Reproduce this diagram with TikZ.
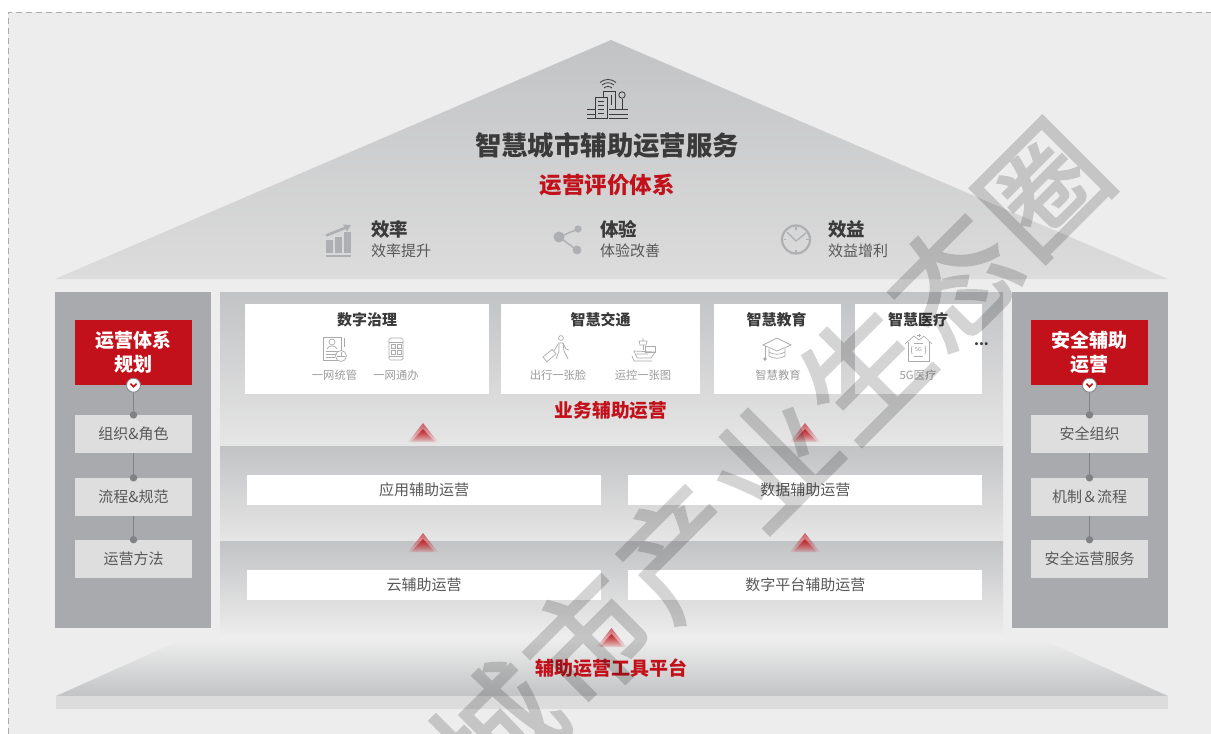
\documentclass[tikz,border=0pt]{standalone}
\usepackage{fontspec}
\setmainfont{Noto Sans CJK SC}
\newfontfamily\markfont[FakeBold=2.2]{Noto Sans CJK SC}
\usetikzlibrary{shapes,arrows,calc,positioning,fadings}

\definecolor{pagebg}{HTML}{EDEDED}
\definecolor{bandtop}{HTML}{C2C3C5}
\definecolor{roofend}{HTML}{DCDCDC}
\definecolor{sidegray}{HTML}{A9AAAE}
\definecolor{boxgray}{HTML}{DEDEDE}
\definecolor{hwred}{HTML}{C2111A}
\definecolor{darktext}{HTML}{3A3A3A}
\definecolor{midtext}{HTML}{585858}
\definecolor{softtext}{HTML}{9C9C9C}
\definecolor{iconline}{HTML}{ABABAB}
\definecolor{iconfill}{HTML}{AEAFB3}
\definecolor{chainline}{HTML}{808285}

\tikzfading[name=chevfade, top color=transparent!15, bottom color=transparent!95]

\tikzstyle{card}=[fill=white, minimum height=90pt, inner sep=0pt]
\tikzstyle{bar}=[fill=white, minimum width=354pt, minimum height=30pt, inner sep=0pt, text=midtext, font=\fontsize{15}{15}\selectfont]
\tikzstyle{headbox}=[fill=hwred, minimum width=117pt, minimum height=65pt, inner sep=0pt, align=center, text=white, font=\fontsize{19}{24}\selectfont\bfseries]
\tikzstyle{graybox}=[fill=boxgray, minimum width=117pt, minimum height=38pt, inner sep=0pt, text=midtext, font=\fontsize{15}{15}\selectfont]
\tikzstyle{cardtitle}=[text=darktext, inner sep=0pt, font=\fontsize{15}{15}\selectfont\bfseries]
\tikzstyle{sublabel}=[text=softtext, inner sep=0pt, font=\fontsize{11.3}{12}\selectfont]
\tikzstyle{redlabel}=[text=hwred, inner sep=0pt, font=\fontsize{19}{19}\selectfont\bfseries]
\tikzstyle{kpititle}=[text=darktext, inner sep=0pt, font=\fontsize{18.5}{19}\selectfont\bfseries]
\tikzstyle{kpitext}=[text=midtext, inner sep=0pt, font=\fontsize{15}{15}\selectfont]
\tikzstyle{knob}=[circle, fill=white, draw=chainline, line width=.8pt, minimum size=14pt, inner sep=0pt]
\tikzstyle{chaindot}=[circle, fill=chainline, minimum size=7.5pt, inner sep=0pt]
\tikzstyle{chain}=[draw=chainline, line width=1pt]
\tikzstyle{thin icon}=[draw=iconline, line width=.7pt]
\tikzstyle{city icon}=[draw=darktext, line width=.8pt]
\tikzstyle{kpi icon}=[fill=iconfill, draw=none]
\tikzstyle{markchar}=[text=black, inner sep=0pt, rotate=45, font=\markfont\fontsize{122}{122}\selectfont]

\tikzset{
  upchevrons/.pic={
    \fill [hwred, opacity=.75, path fading=chevfade] (0,0) -- (15,19) -- (-15,19) -- cycle;
    \fill [hwred, path fading=chevfade] (0,6) -- (12,19) -- (-12,19) -- cycle;
  }
}

\begin{document}
\begin{tikzpicture}[x=1pt, y=-1pt]

\useasboundingbox (0,0) rectangle (1211,734);
\fill [pagebg] (8,12) rectangle (1211,734);
\draw [gray!65, line width=.8pt, dash pattern=on 6pt off 4pt] (8,734) -- (8,12) -- (1211,12);

\shade [top color=bandtop, bottom color=roofend] (611,40) -- (1168,279) -- (55,279) -- cycle;
\fill [sidegray] (55,292) rectangle (211,628);
\fill [sidegray] (1012,292) rectangle (1168,628);
\shade [top color=bandtop, bottom color=pagebg!97!black] (220,292) rectangle (1003,446);
\shade [top color=bandtop, bottom color=pagebg!97!black] (220,446) rectangle (1003,541);
\shade [top color=bandtop, bottom color=pagebg] (220,541) rectangle (1003,636);
\shade [top color=pagebg, bottom color=bandtop] (181,640) -- (1043,640) -- (1168,696) -- (56,696) -- cycle;
\fill [roofend] (56,696) rectangle (1168,709);

\node (title) [text=darktext, inner sep=0pt, font=\fontsize{26.4}{27}\selectfont\bfseries] at (607,145) {智慧城市辅助运营服务};
\node (system) [below=15.5pt of title, text=hwred, inner sep=0pt, font=\fontsize{22.5}{23}\selectfont\bfseries] {运营评价体系};

\node (eff) [kpititle, anchor=west] at (371,229) {效率};
\node (effsub) [kpitext, anchor=west] at (371,251) {效率提升};
\node (exp) [kpititle, anchor=west] at (600,229) {体验};
\node (expsub) [kpitext, anchor=west] at (600,251) {体验改善};
\node (ben) [kpititle, anchor=west] at (828,229) {效益};
\node (bensub) [kpitext, anchor=west] at (828,251) {效益增利};

\draw [city icon] (595,118) -- (595,97) -- (607,97) -- (607,118) -- cycle;
\draw [city icon] (603,97) -- (603,91) -- (615,91) -- (615,109);
\draw [city icon] (598,101) -- (604,101) (598,105) -- (604,105) (598,109) -- (604,109) (598,113) -- (604,113);
\draw [city icon] (611,95) -- (611,105);
\draw [city icon] (622,95) circle (3.2);
\draw [city icon] (622,99) -- (622,109);
\draw [city icon] (587,109) -- (595,109) (587,114) -- (595,114) (587,118) -- (595,118);
\draw [city icon] (609,114) -- (628,114) (609,118) -- (628,118) (609,109) -- (628,109);
\draw [city icon] (604,88) .. controls (606,86) and (610,86) .. (612,88);
\draw [city icon] (602,85) .. controls (605,82) and (611,82) .. (614,85);
\draw [city icon] (600,82.5) .. controls (604,78.5) and (612,78.5) .. (616,82.5);

\fill [kpi icon] (326,240) rectangle (333,253);
\fill [kpi icon] (335,237) rectangle (342,253);
\fill [kpi icon] (344,232) rectangle (351,253);
\fill [kpi icon] (326,255) rectangle (351,257);
\draw [draw=iconfill, line width=2.6pt] (326,235.5) -- (346,227.5);
\fill [kpi icon] (351,225) -- (343,224.5) -- (347,231.5) -- cycle;

\draw [draw=iconfill, line width=1.4pt] (559,237) -- (578,229) (559,237) -- (577,250);
\fill [kpi icon] (559,237) circle (5.5);
\fill [kpi icon] (578,229) circle (3.6);
\fill [kpi icon] (577,250) circle (4.4);

\draw [draw=iconfill, line width=2.2pt] (796,239.5) circle (14);
\draw [draw=iconfill, line width=1.2pt] (787,232) -- (796,241) -- (806,233);
\draw [draw=iconfill, line width=1.2pt] (796,227) -- (796,229.5) (796,250) -- (796,252.5) (783.5,239.5) -- (786,239.5) (806,239.5) -- (808.5,239.5);

\node (govcard) [card, minimum width=244pt] at (367,349) {};
\node (trafficcard) [card, minimum width=199pt] at (600.5,349) {};
\node (educard) [card, minimum width=127pt] at (777.5,349) {};
\node (medcard) [card, minimum width=127pt] at (918.5,349) {};

\node (gov) [cardtitle] at (367,320) {数字治理};
\node (traffic) [cardtitle] at (600.5,320) {智慧交通};
\node (edu) [cardtitle] at (776.5,320) {智慧教育};
\node (med) [cardtitle] at (918,320) {智慧医疗};
\node (more) [text=darktext, inner sep=0pt, font=\fontsize{14}{14}\selectfont\bfseries] at (981.5,344) {...};

\node (govone) [sublabel] at (334.5,375) {一网统管};
\node (govtwo) [sublabel] at (396,375) {一网通办};
\node (trafficone) [sublabel] at (558,375) {出行一张脸};
\node (traffictwo) [sublabel] at (643,375) {运控一张图};
\node (eduone) [sublabel] at (778,375) {智慧教育};
\node (medone) [sublabel] at (918,375) {5G医疗};

\draw [thin icon] (323,337) rectangle (341,360);
\draw [thin icon] (332,342) circle (3);
\draw [thin icon] (327,349) .. controls (328,345) and (336,345) .. (337,349);
\draw [thin icon] (326,351) -- (339,351) (326,354) -- (337,354) (326,357) -- (335,357);
\draw [thin icon, fill=white] (341,356) circle (5.5);
\draw [thin icon] (337,356) -- (345,356) (341,356) -- (341,352);
\draw [thin icon] (344,338) -- (344,347);
\draw [thin icon, rounded corners=1.5pt] (389,338) rectangle (403,360);
\draw [thin icon] (389,342) -- (403,342) (389,356) -- (403,356);
\draw [thin icon] (391.5,344.5) rectangle (395.5,348.5);
\draw [thin icon] (397,344.5) rectangle (401,348.5);
\draw [thin icon] (391.5,350) rectangle (395.5,354);
\draw [thin icon] (397,350) rectangle (401,354);

\draw [thin icon] (561,338) circle (2.4);
\draw [thin icon] (558,343) -- (563,343) -- (564,351) -- (568,359);
\draw [thin icon] (559,343) -- (559,351) -- (556,359) (563,343) -- (566,349) -- (569,350);
\draw [thin icon] (558,344) -- (554,351);
\draw [thin icon, rotate around={40:(549.5,355.5)}] (543.5,352.5) rectangle (555.5,358.5);
\draw [thin icon] (643,338) -- (643,341) (639,341) -- (647,341) -- (646,345) -- (640,345) -- cycle;
\draw [thin icon] (643,345) -- (643,350);
\draw [thin icon] (645,346) rectangle (655,352);
\draw [thin icon] (634,351) -- (655,352) -- (651,358) -- (637,358) -- cycle;
\draw [thin icon] (636,354) -- (648,354) (632,356) -- (634,361) -- (652,361);

\draw [thin icon] (777,338) -- (791,345) -- (777,351) -- (763,345) -- cycle;
\draw [thin icon] (769,348.5) -- (769,356) .. controls (773,359) and (781,359) .. (785,356) -- (785,348.5);
\draw [thin icon] (769,352) .. controls (773,355) and (781,355) .. (785,352);
\draw [thin icon] (765,346) -- (765,358);
\draw [thin icon, fill=iconline] (765,359) circle (1.3);
\draw [thin icon] (905,344) -- (914,336) -- (919,340) -- (924,336) -- (932,344);
\draw [thin icon] (908,342) -- (908,361) -- (929,361) -- (929,342);
\node (fiveg) [text=softtext, inner sep=0pt, font=\fontsize{5.5}{6}\selectfont] at (918.5,349.5) {5G};
\draw [thin icon] (912,346) .. controls (911,349) and (911,351) .. (912,354);
\draw [thin icon] (925,346) .. controls (926,349) and (926,351) .. (925,354);
\draw [thin icon] (914,343.5) -- (923,343.5) (914,356) -- (923,356);
\draw [thin icon] (919,333.5) -- (919,337) (917,335) -- (921,335);

\node (bizops) [redlabel, font=\fontsize{18.7}{19}\selectfont\bfseries] at (611,410.5) {业务辅助运营};
\pic at (423,423) {upchevrons};
\pic at (805,423) {upchevrons};

\node (appbar) [bar] at (424,490) {应用辅助运营};
\node (databar) [bar, right=27pt of appbar] {数据辅助运营};
\pic at (423,533) {upchevrons};
\pic at (805,533) {upchevrons};

\node (cloudbar) [bar] at (424,585) {云辅助运营};
\node (platbar) [bar, right=27pt of cloudbar] {数字平台辅助运营};
\pic at (611.5,628) {upchevrons};

\node (tools) [redlabel] at (611,668) {辅助运营工具平台};

\node (plan) [headbox] at (133.5,352.5) {运营体系\\规划};
\node (role) [graybox, below=29.7pt of plan] {组织\&角色};
\node (flow) [graybox, below=24.5pt of role] {流程\&规范};
\node (method) [graybox, below=23.5pt of flow] {运营方法};
\node (planknob) [knob] at (plan.south) {};
\node (roledot) [chaindot] at (role.north) {};
\node (flowdot) [chaindot] at (flow.north) {};
\node (methoddot) [chaindot] at (method.north) {};
\draw [chain] (planknob) -- (roledot);
\draw [chain] (role.south) -- (flowdot);
\draw [chain] (flow.south) -- (methoddot);
\draw [draw=hwred, line width=1.6pt] ([shift={(-3,-1.5)}]planknob.center) -- ([shift={(0,1.5)}]planknob.center) -- ([shift={(3,-1.5)}]planknob.center);

\node (secure) [headbox] at (1089.5,352.5) {安全辅助\\运营};
\node (secorg) [graybox, below=29.7pt of secure] {安全组织};
\node (secflow) [graybox, below=24.5pt of secorg] {机制＆流程};
\node (secserv) [graybox, below=23.5pt of secflow] {安全运营服务};
\node (secknob) [knob] at (secure.south) {};
\node (secorgdot) [chaindot] at (secorg.north) {};
\node (secflowdot) [chaindot] at (secflow.north) {};
\node (secservdot) [chaindot] at (secserv.north) {};
\draw [chain] (secknob) -- (secorgdot);
\draw [chain] (secorg.south) -- (secflowdot);
\draw [chain] (secflow.south) -- (secservdot);
\draw [draw=hwred, line width=1.6pt] ([shift={(-3,-1.5)}]secknob.center) -- ([shift={(0,1.5)}]secknob.center) -- ([shift={(3,-1.5)}]secknob.center);

\begin{scope}[transparency group, opacity=.17]
\clip (0,0) rectangle (1211,734);
\foreach \ch [count=\i] in {城,市,产,业,生,态,圈}
  \node (mark\i) [markchar] at ({1044-91*(7-\i)},{190+90*(7-\i)}) {\ch};
\end{scope}

\end{tikzpicture}
\end{document}
